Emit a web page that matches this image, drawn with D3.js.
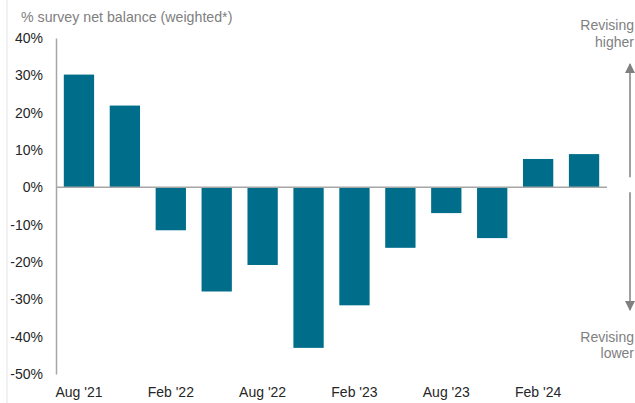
<!DOCTYPE html>
<html>
<head>
<meta charset="utf-8">
<style>
  body { margin: 0; background: #fff; }
  svg { display: block; font-family: "Liberation Sans", Arial, sans-serif; }
</style>
</head>
<body>
<svg width="635" height="403"></svg>
<script src="https://cdn.jsdelivr.net/npm/d3@7/dist/d3.min.js"></script>
<script>

// quarterly survey readings, Aug '21 to May '24
var periods = ["Aug '21", "Nov '21", "Feb '22", "May '22", "Aug '22", "Nov '22",
               "Feb '23", "May '23", "Aug '23", "Nov '23", "Feb '24", "May '24"];
var values = [30.2, 21.9, -11.5, -27.9, -20.8, -43, -31.6, -16.2, -6.9, -13.6, 7.6, 8.9];
var labelled = ["Aug '21", "Feb '22", "Aug '22", "Feb '23", "Aug '23", "Feb '24"];
var yTicks = [40, 30, 20, 10, 0, -10, -20, -30, -40, -50];

var svg = d3.select("svg"),
    margin = {top: 38, right: 28, bottom: 29, left: 56},
    width = +svg.attr("width") - margin.left - margin.right,
    height = +svg.attr("height") - margin.top - margin.bottom,
    g = svg.append("g").attr("transform", "translate(" + margin.left + "," + margin.top + ")");

var x = d3.scaleBand()
    .domain(periods)
    .range([0, width])
    .paddingInner(0.34)
    .paddingOuter(0.17);

var y = d3.scaleLinear()
    .domain([-50, 40])
    .range([height, 0]);

// faint frame line at the far left
svg.append("line")
    .attr("x1", 7).attr("x2", 7)
    .attr("y1", 0).attr("y2", 403)
    .attr("stroke", "#e4e4e4");

svg.append("text")
    .attr("x", 21)
    .attr("y", 22)
    .attr("fill", "#808080")
    .attr("font-size", 14.2)
    .text("% survey net balance (weighted*)");

// y axis
var yAxis = g.append("g")
    .call(d3.axisLeft(y).tickValues(yTicks).tickFormat(function(d) { return d + "%"; })
      .tickSize(0).tickPadding(13));
yAxis.select(".domain").attr("stroke", "#a6a6a6").attr("stroke-width", 1.5);
yAxis.selectAll("text")
    .attr("fill", "#262626")
    .attr("font-size", 14)
    .attr("font-family", "Liberation Sans, Arial, sans-serif");

// bars
g.selectAll(".bar")
    .data(values)
  .enter().append("rect")
    .attr("class", "bar")
    .attr("x", function(d, i) { return x(periods[i]); })
    .attr("width", x.bandwidth())
    .attr("y", function(d) { return y(Math.max(0, d)); })
    .attr("height", function(d) { return Math.abs(y(d) - y(0)); })
    .attr("fill", "#006e8a");

// zero line
g.append("line")
    .attr("x1", 0).attr("x2", width)
    .attr("y1", y(0)).attr("y2", y(0))
    .attr("stroke", "#a6a6a6")
    .attr("stroke-width", 1.5);

// x labels
g.append("g")
    .selectAll("text")
    .data(labelled)
  .enter().append("text")
    .attr("x", function(d) { return x(d) + x.bandwidth() / 2; })
    .attr("y", height + 23)
    .attr("text-anchor", "middle")
    .attr("fill", "#262626")
    .attr("font-size", 14)
    .text(function(d) { return d; });

// direction arrows on the right
var ax = 630;
svg.append("defs").append("marker")
    .attr("id", "head")
    .attr("viewBox", "0 0 10 10")
    .attr("refX", 9).attr("refY", 5)
    .attr("markerWidth", 10).attr("markerHeight", 12)
    .attr("markerUnits", "userSpaceOnUse")
    .attr("orient", "auto")
  .append("path")
    .attr("d", "M0,0L10,5L0,10Z")
    .attr("fill", "#808080");

svg.append("line")
    .attr("x1", ax).attr("x2", ax)
    .attr("y1", margin.top + y(0) - 10).attr("y2", 64)
    .attr("stroke", "#808080").attr("stroke-width", 1.5)
    .attr("marker-end", "url(#head)");

svg.append("line")
    .attr("x1", ax).attr("x2", ax)
    .attr("y1", margin.top + y(0) + 5).attr("y2", 310)
    .attr("stroke", "#808080").attr("stroke-width", 1.5)
    .attr("marker-end", "url(#head)");

var notes = [["Revising", 30], ["higher", 47], ["Revising", 342], ["lower", 358]];
svg.append("g")
    .selectAll("text")
    .data(notes)
  .enter().append("text")
    .attr("x", 634)
    .attr("y", function(d) { return d[1]; })
    .attr("text-anchor", "end")
    .attr("fill", "#808080")
    .attr("font-size", 14)
    .text(function(d) { return d[0]; });

</script>
</body>
</html>
